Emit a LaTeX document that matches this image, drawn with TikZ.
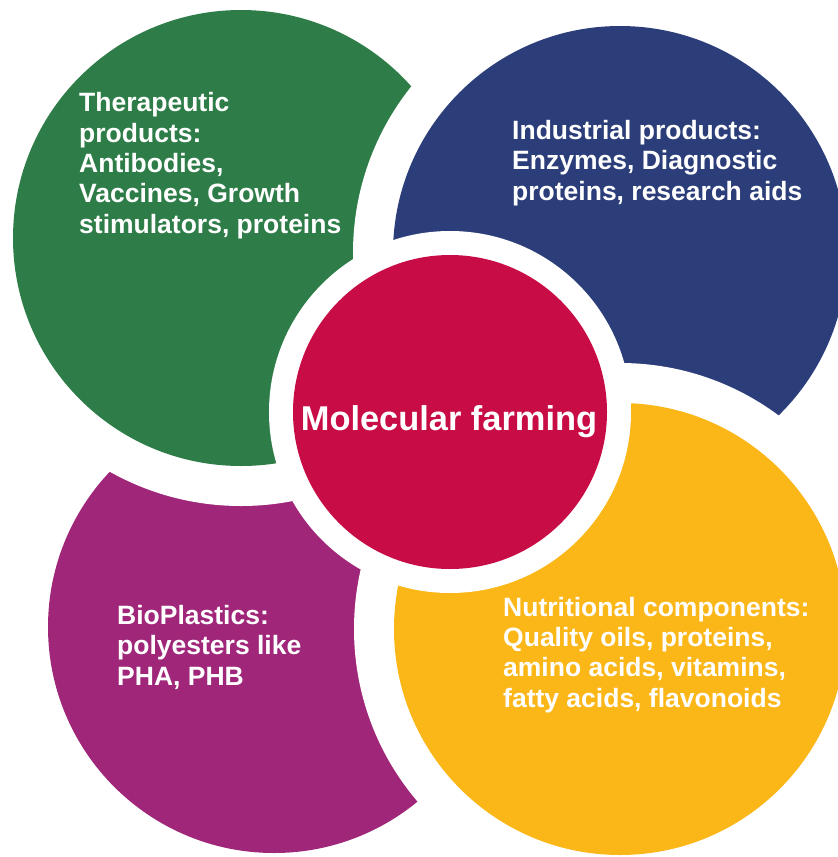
\documentclass[tikz,border=0pt]{standalone}
\usepackage{fontspec}
\setmainfont{Liberation Sans}
\usetikzlibrary{positioning}

\definecolor{bgreen}{HTML}{2E7D48}
\definecolor{bblue}{HTML}{2C3E7A}
\definecolor{bred}{HTML}{C80C46}
\definecolor{byellow}{HTML}{FBB617}
\definecolor{bpurple}{HTML}{9F2679}

\tikzset{
  lbl/.style={text=white,font=\bfseries\fontsize{26.5}{30.3}\selectfont,
    align=left,anchor=base west,inner sep=0pt},
  midlbl/.style={text=white,font=\bfseries\fontsize{34.4}{38}\selectfont,
    anchor=base,inner sep=0pt}
}

\begin{document}
\begin{tikzpicture}[x=1pt,y=-1pt]

\useasboundingbox (0,0) rectangle (838,857);

\coordinate (cpu) at (274,627);
\coordinate (cgr) at (241,238);
\coordinate (cbl) at (620,253);
\coordinate (cye) at (620,629);
\coordinate (cmid) at (450,412);

\foreach \c/\r/\col in {pu/226/bpurple,gr/228/bgreen,bl/227/bblue,ye/226/byellow}{
  \fill[white] (c\c) circle ({\r+40});
  \fill[\col]  (c\c) circle (\r);
}

\fill[white] (cmid) circle (181);
\fill[bred]  (cmid) circle (157);

\node[lbl] (tgr) at (79,233) {Therapeutic\\products:\\Antibodies,\\Vaccines, Growth\\stimulators, proteins};
\node[lbl] (tbl) at (512,200) {Industrial products:\\Enzymes, Diagnostic\\proteins, research aids};
\node[lbl] (tye) at (503,707) {Nutritional components:\\Quality oils, proteins,\\amino acids, vitamins,\\fatty acids, flavonoids};
\node[lbl] (tpu) at (117,685) {BioPlastics:\\polyesters like\\PHA, PHB};

\node[midlbl] (tmid) at (449,430) {Molecular farming};

\end{tikzpicture}
\end{document}
